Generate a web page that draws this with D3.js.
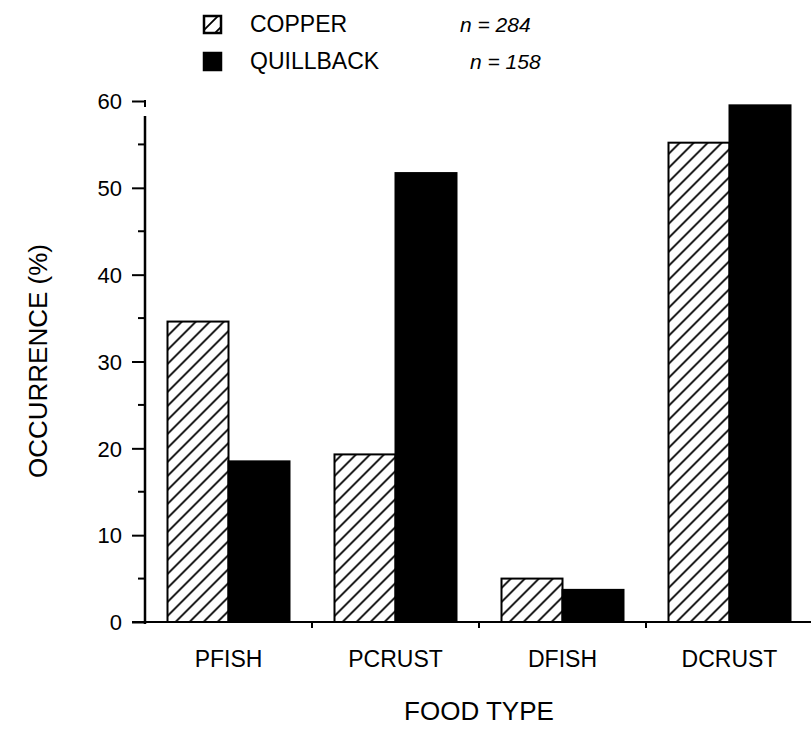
<!DOCTYPE html>
<html lang="en">
<head>
    <meta charset="UTF-8">
    <title>Food type occurrence</title>
    <script src="https://d3js.org/d3.v7.min.js"></script>
    <style>
        body {margin: 0; background: white;}
        text {
            font-family: "Liberation Sans", Arial, sans-serif;
            fill: black;
        }
    </style>
</head>
<body>
<script>
    const width = 811;
    const height = 729;

    // data
    const foodTypes = ["PFISH", "PCRUST", "DFISH", "DCRUST"];
    const species   = ["COPPER", "QUILLBACK"];
    const sampleN   = ["n = 284", "n = 158"];
    const copper    = [34.6, 19.3, 5.0, 55.2];
    const quillback = [18.5, 51.7, 3.7, 59.5];
    const yTicks    = [0, 10, 20, 30, 40, 50, 60];
    const yMinor    = [5, 15, 25, 35, 45, 55];

    const rows = foodTypes.map((f, i) => ({food: f, values: [copper[i], quillback[i]]}));

    const svg = d3.select("body").append("svg")
            .attr("width", width).attr("height", height);

    // hatch pattern for copper
    const pat = svg.append("defs").append("pattern")
            .attr("id", "hatch")
            .attr("patternUnits", "userSpaceOnUse")
            .attr("width", 14).attr("height", 14);
    pat.append("rect").attr("width", 14).attr("height", 14).style("fill", "white");
    pat.append("path")
            .attr("d", "M-2,16 L16,-2 M-2,2 L2,-2 M12,16 L16,12")
            .style("stroke", "black").style("stroke-width", 1.8);

    const x = d3.scaleBand().domain(foodTypes).range([145, 813]);
    const xs = d3.scaleBand().domain(species).range([0, 122]);
    const y = d3.scaleLinear().domain([0, 60]).range([622, 101]);

    const fills = ["url(#hatch)", "black"];

    // bars
    const group = svg.selectAll("g.food")
            .data(rows)
            .enter()
            .append("g")
            .attr("class", "food")
            .attr("transform", d => `translate(${x(d.food) + (x.bandwidth() - 122) / 2},0)`);

    group.selectAll("rect")
            .data(d => d.values.map((v, i) => ({sp: species[i], v: v, i: i})))
            .enter()
            .append("rect")
            .attr("x", d => xs(d.sp))
            .attr("width", xs.bandwidth())
            .attr("y", d => y(d.v))
            .attr("height", d => y(0) - y(d.v))
            .style("fill", d => fills[d.i])
            .style("stroke", "black")
            .style("stroke-width", 2);

    // y axis
    const yAxis = d3.axisLeft(y).tickValues(yTicks).tickSize(12).tickPadding(10);
    const ga = svg.append("g").attr("transform", "translate(144,0)").call(yAxis);
    ga.select(".domain").remove();
    ga.selectAll(".tick line").style("stroke", "black").style("stroke-width", 2);
    ga.selectAll(".tick text")
            .style("font-size", "22px")
            .style("font-family", "'Liberation Sans', Arial, sans-serif")
            .attr("dy", "0.35em");
    svg.append("g").selectAll("line")
            .data(yMinor).enter().append("line")
            .attr("x1", 138).attr("x2", 145)
            .attr("y1", d => y(d)).attr("y2", d => y(d))
            .style("stroke", "black").style("stroke-width", 2);
    // small hook at the top tick
    svg.append("line")
            .attr("x1", 145).attr("x2", 145)
            .attr("y1", y(60) - 1).attr("y2", y(60) + 6)
            .style("stroke", "black").style("stroke-width", 2);
    svg.append("line")
            .attr("x1", 145).attr("x2", 145)
            .attr("y1", y(60) + 15).attr("y2", y(0) + 2)
            .style("stroke", "black").style("stroke-width", 2.5);

    // x axis
    svg.append("line")
            .attr("x1", 132).attr("x2", 811)
            .attr("y1", y(0)).attr("y2", y(0))
            .style("stroke", "black").style("stroke-width", 2);
    svg.append("g").selectAll("line")
            .data(foodTypes.slice(1)).enter().append("line")
            .attr("x1", d => x(d)).attr("x2", d => x(d))
            .attr("y1", y(0)).attr("y2", y(0) + 6)
            .style("stroke", "black").style("stroke-width", 2);
    svg.append("g").selectAll("text")
            .data(foodTypes).enter().append("text")
            .attr("x", d => x(d) + x.bandwidth() / 2)
            .attr("y", 667)
            .attr("text-anchor", "middle")
            .style("font-size", "23px")
            .text(d => d);

    // axis titles
    svg.append("text")
            .attr("x", 479).attr("y", 720)
            .attr("text-anchor", "middle")
            .style("font-size", "26px")
            .text("FOOD TYPE");
    svg.append("text")
            .attr("transform", "translate(47,361) rotate(-90)")
            .attr("text-anchor", "middle")
            .style("font-size", "26px")
            .text("OCCURRENCE (%)");

    // legend
    const legend = svg.selectAll("g.legend")
            .data(species)
            .enter()
            .append("g")
            .attr("class", "legend")
            .attr("transform", (d, i) => `translate(204,${16 + i * 37})`);
    legend.append("rect")
            .attr("width", 17).attr("height", 17)
            .style("fill", (d, i) => fills[i])
            .style("stroke", "black").style("stroke-width", 2.5);
    legend.append("text")
            .attr("x", 46).attr("y", 16)
            .style("font-size", "23px")
            .text(d => d);
    legend.append("text")
            .attr("x", (d, i) => i === 0 ? 256 : 266).attr("y", 16)
            .style("font-size", "21px")
            .style("font-style", "italic")
            .text((d, i) => sampleN[i]);
</script>
</body>
</html>
